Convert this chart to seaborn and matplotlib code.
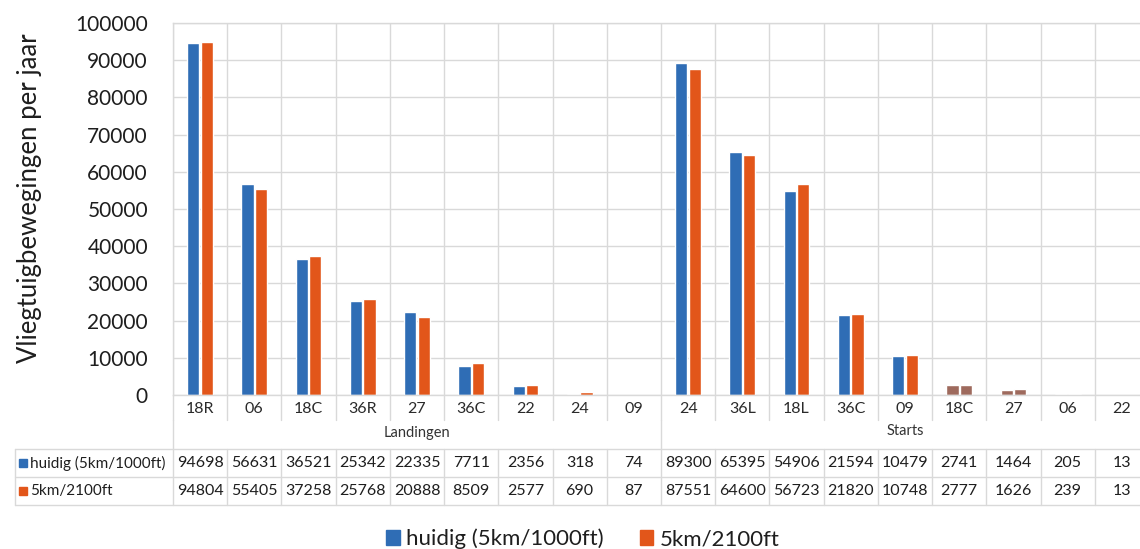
import matplotlib
matplotlib.use("Agg")
import matplotlib.pyplot as plt
import pandas as pd
import seaborn as sns
from matplotlib.lines import Line2D
from matplotlib.patches import Patch, Rectangle
from matplotlib.transforms import blended_transform_factory

# Aircraft movements per runway, landings and take-offs
groups = ["Landingen"] * 9 + ["Starts"] * 9
runways = ["18R", "06", "18C", "36R", "27", "36C", "22", "24", "09",
           "24", "36L", "18L", "36C", "09", "18C", "27", "06", "22"]
huidig = [94698, 56631, 36521, 25342, 22335, 7711, 2356, 318, 74,
          89300, 65395, 54906, 21594, 10479, 2741, 1464, 205, 13]
alt_2100 = [94804, 55405, 37258, 25768, 20888, 8509, 2577, 690, 87,
            87551, 64600, 56723, 21820, 10748, 2777, 1626, 239, 13]
series = ["huidig (5km/1000ft)", "5km/2100ft"]
y_ticks = list(range(0, 100001, 10000))

BLUE = "#2f6db5"
ORANGE = "#e2561a"
BROWN = "#9e6a5d"
GRID = "#d9d9d9"
TEXT = "#1e1e1e"

keys = [f"{g} {r}" for g, r in zip(groups, runways)]
long = pd.DataFrame({
    "baan": keys * 2,
    "scenario": [series[0]] * len(keys) + [series[1]] * len(keys),
    "bewegingen": huidig + alt_2100,
})

sns.set_theme(style="white")
plt.rcParams["font.family"] = ["Lato", "DejaVu Sans"]

W, H = 1140, 549
fig = plt.figure(figsize=(W / 100, H / 100), dpi=100)
fy = lambda px: 1 - px / H
fx = lambda px: px / W

ax = fig.add_axes([fx(173), fy(395), fx(1149 - 173), (395 - 23) / H])
sns.barplot(data=long, x="baan", y="bewegingen", hue="scenario",
            palette=[BLUE, ORANGE], width=0.5, gap=0.1, saturation=1,
            legend=False, ax=ax)

# two small take-off bars are printed in a muted brown
for cont in ax.containers:
    for i in (14, 15):
        cont[i].set_facecolor(BROWN)

n = len(keys)
ax.set_xlim(-0.5, n - 0.5)
ax.set_ylim(0, 100000)
ax.set_yticks(y_ticks)
ax.set_yticklabels([str(v) for v in y_ticks], fontsize=15, color=TEXT)
ax.set_xticks(range(n))
ax.set_xticklabels(runways, fontsize=11.5, color="#2a2a2a")
ax.set_xticks([i - 0.5 for i in range(n + 1)], minor=True)
ax.tick_params(axis="y", length=0, pad=18)
ax.tick_params(axis="x", which="both", length=0, pad=5)
ax.grid(axis="y", color=GRID, lw=1)
ax.grid(axis="x", which="minor", color=GRID, lw=1)
ax.grid(axis="x", which="major", visible=False)
ax.set_axisbelow(True)
for s in ax.spines.values():
    s.set_color(GRID)
    s.set_linewidth(1)
ax.set_xlabel("")
ax.set_ylabel("")

fig.text(fx(30), fy(198), "Vliegtuigbewegingen per jaar", rotation=90,
         ha="center", va="center", fontsize=18.5, color=TEXT)

# data table below the plot area
bt = blended_transform_factory(ax.transData, fig.transFigure)
line_kw = dict(color=GRID, lw=1, clip_on=False)
for b in [i - 0.5 for i in range(n + 1)]:
    fig.add_artist(Line2D([b, b], [fy(395), fy(420)], transform=bt, **line_kw))
    fig.add_artist(Line2D([b, b], [fy(449), fy(505)], transform=bt, **line_kw))
for b in (-0.5, 8.5, 17.5):
    fig.add_artist(Line2D([b, b], [fy(420), fy(449)], transform=bt, **line_kw))
for y in (449, 477, 505):
    fig.add_artist(Line2D([fx(15), 1], [fy(y), fy(y)],
                          transform=fig.transFigure, **line_kw))
fig.add_artist(Line2D([fx(15), fx(15)], [fy(449), fy(505)],
                      transform=fig.transFigure, **line_kw))

fig.text(4, fy(433), "Landingen", transform=bt, ha="center", va="center",
         fontsize=10.5, color="#333333")
fig.text(13, fy(431), "Starts", transform=bt, ha="center", va="center",
         fontsize=10.5, color="#333333")

for row_y, vals, col, name in ((463, huidig, BLUE, series[0]),
                               (491, alt_2100, ORANGE, series[1])):
    for i, v in enumerate(vals):
        fig.text(i, fy(row_y), str(v), transform=bt, ha="center",
                 va="center", fontsize=11.5, color=TEXT)
    fig.add_artist(Rectangle((fx(19), fy(row_y + 4)), 8 / W, 8 / H,
                             transform=fig.transFigure, color=col))
    fig.text(fx(30), fy(row_y), name, ha="left", va="center",
             fontsize=11, color=TEXT)

handles = [Patch(color=BLUE), Patch(color=ORANGE)]
fig.legend(handles, series, loc="center", bbox_to_anchor=(fx(583), fy(539)),
           ncol=2, frameon=False, fontsize=16, handlelength=0.6,
           handleheight=0.6, handletextpad=0.3, columnspacing=1.6,
           labelcolor=TEXT)

fig.savefig("out.png", dpi=100, facecolor="white")
